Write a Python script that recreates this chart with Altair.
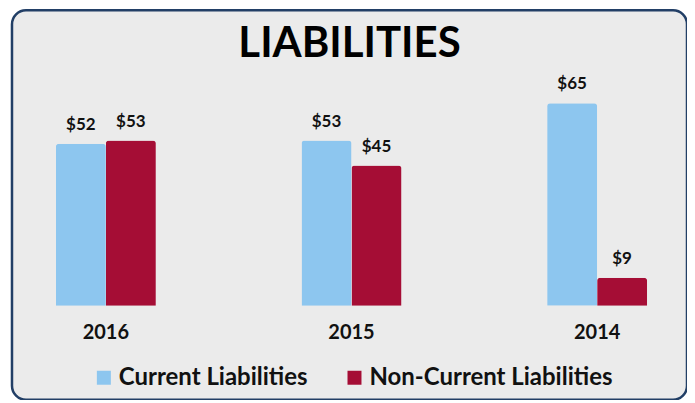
import altair as alt
import pandas as pd

years = ["2016", "2015", "2014"]
series = ["Current Liabilities", "Non-Current Liabilities"]
current = [52, 53, 65]
noncurrent = [53, 45, 9]

rows = []
for i, yr in enumerate(years):
    rows.append({"year": yr, "series": series[0], "value": current[i], "label": f"${current[i]}"})
    rows.append({"year": yr, "series": series[1], "value": noncurrent[i], "label": f"${noncurrent[i]}"})
df = pd.DataFrame(rows)

FONT = "Lato"

x = alt.X("year:N", sort=years,
          scale=alt.Scale(range=[10, 670], paddingInner=0.593, paddingOuter=0.138),
          axis=alt.Axis(title=None, domain=False, ticks=False, labelAngle=0, labelFont=FONT,
                        labelFontSize=20, labelFontWeight="bold", labelColor="#111111",
                        labelPadding=17, offset=-94))
y = alt.Y("value:Q", scale=alt.Scale(domain=[0, 65], range=[296, 93], nice=False, zero=True), axis=None)
xo = alt.XOffset("series:N", sort=series)
color = alt.Color("series:N", sort=series,
                  scale=alt.Scale(domain=series, range=["#8DC6EF", "#A50D35"]),
                  legend=alt.Legend(title=None, orient="none", legendX=80, legendY=356, direction="horizontal",
                                    columns=2, symbolType="square", symbolSize=196, symbolStrokeWidth=0,
                                    labelFont=FONT, labelFontSize=24, labelFontWeight="bold",
                                    labelColor="#111111", labelOffset=3, columnPadding=34,
                                    labelLimit=0))

base = alt.Chart(df).encode(x=x, y=y, xOffset=xo)
bars = base.mark_bar(cornerRadiusTopLeft=3, cornerRadiusTopRight=3).encode(color=color)
labels = base.mark_text(dy=-10, baseline="bottom", font=FONT, fontSize=17, fontWeight="bold",
                        color="#111111").encode(text="label:N")

chart = alt.layer(bars, labels).properties(
    width=676, height=390, autosize="none",
    padding={"left": 4, "top": 2, "right": 0, "bottom": 0},
    title=alt.TitleParams("LIABILITIES", font=FONT, fontSize=42, fontWeight="bold", color="#000000",
                          anchor="middle", offset=-52, dy=37, baseline="alphabetic"),
).configure(background="#FFFFFF").configure_view(
    stroke="#223F66", strokeWidth=2.5, fill="#EBEBEB", cornerRadius=14
)

chart.save("out.html", embed_options={"renderer": "svg", "actions": False})
